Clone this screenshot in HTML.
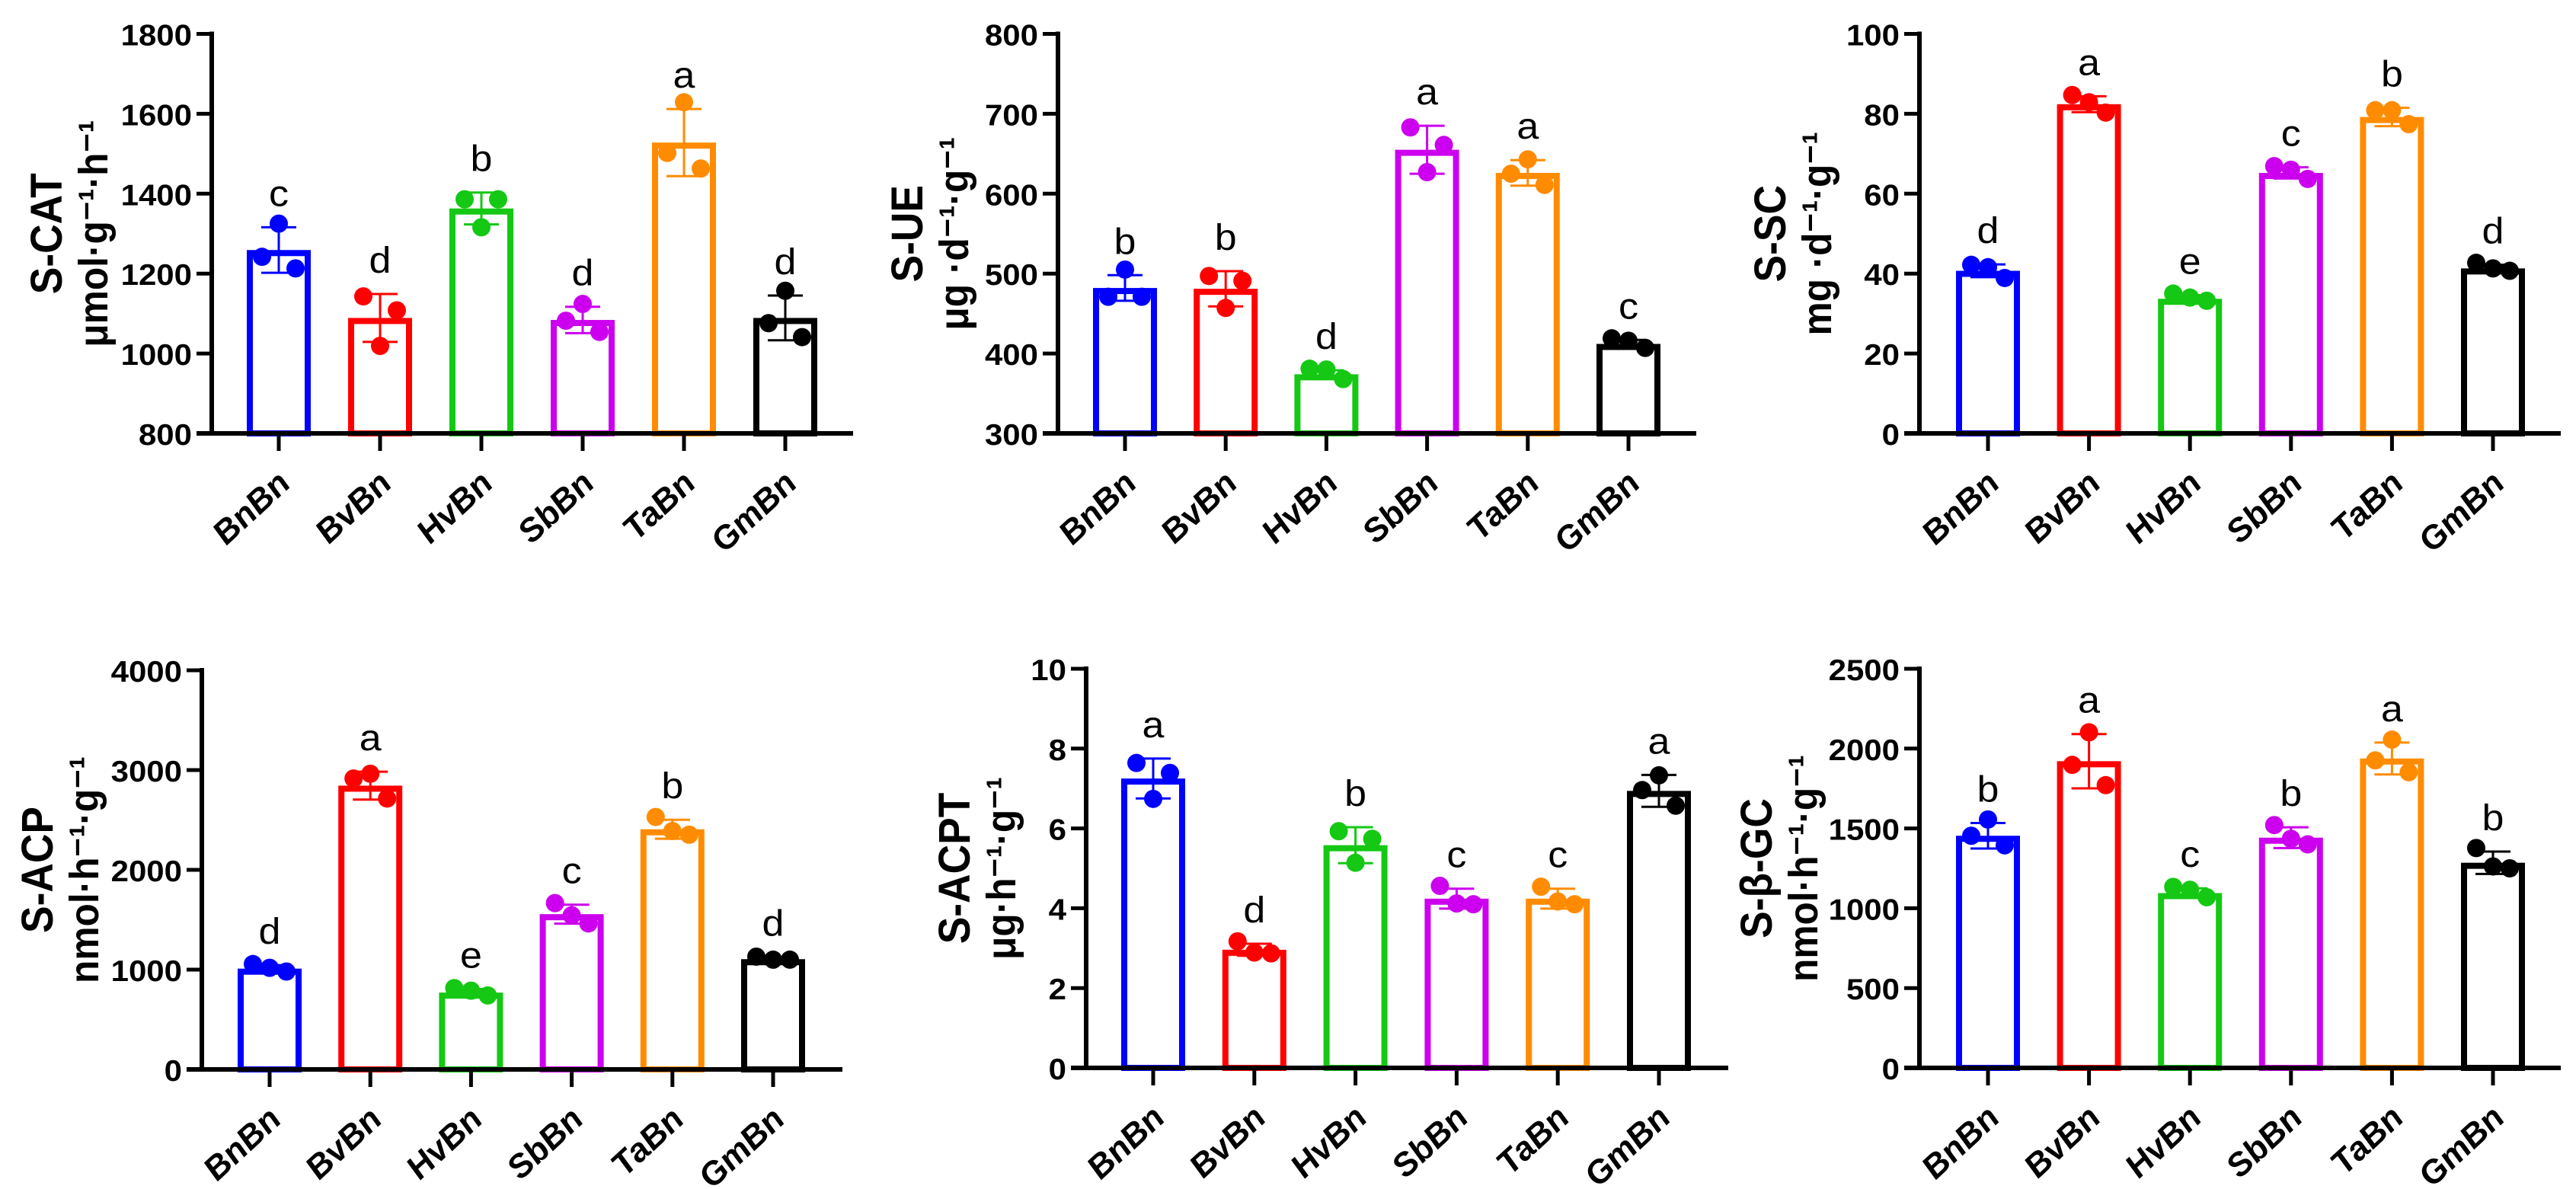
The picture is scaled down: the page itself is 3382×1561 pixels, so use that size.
<!DOCTYPE html>
<html><head><meta charset="utf-8"><style>
html,body{margin:0;padding:0;background:#fff;}
svg{display:block;}
text{font-family:"Liberation Sans",Arial,sans-serif;}
</style></head><body>
<svg id="fig" xmlns="http://www.w3.org/2000/svg" width="3382" height="1561" viewBox="0 0 3382 1561"></svg>
<script>
const categories = ["BnBn","BvBn","HvBn","SbBn","TaBn","GmBn"];
const colors = ["#0000ff","#ff0000","#14c814","#cc00ee","#ff8c00","#000000"];

const catMeans = [1259,1089,1363,1084,1528,1089];
const catErr = [57,60,40,33,84,56];
const catPts = [[1242,1325,1213],[1143,1019,1108],[1386,1316,1386],[1082,1124,1054],[1502,1629,1463],[1076,1157,1041]];
const catLetters = ["c","d","b","d","a","d"];
const catTicks = [800,1000,1200,1400,1600,1800];

const ueMeans = [482,481,374,655,626,412];
const ueErr = [16,22,5,30,16,5];
const uePts = [[471,505,471],[497,457,491],[381,380,368],[683,627,661],[625,643,611],[419,416,407]];
const ueLetters = ["b","b","d","a","a","c"];
const ueTicks = [300,400,500,600,700,800];

const scMeans = [40.7,82.4,33.7,65.2,79.2,41.3];
const scErr = [1.6,2.0,0.9,1.4,2.3,0.9];
const scPts = [[42.2,41.6,38.9],[84.7,82.9,80.3],[35,34,33.2],[66.9,66.0,63.7],[80.9,80.9,77.4],[42.7,41.3,40.7]];
const scLetters = ["d","a","e","c","b","d"];
const scTicks = [0,20,40,60,80,100];

const acpMeans = [1010,2844,770,1556,2407,1105];
const acpErr = [35,140,35,95,95,20];
const acpPts = [[1056,1018,981],[2915,2963,2715],[815,789,741],[1667,1544,1463],[2530,2389,2352],[1130,1100,1100]];
const acpLetters = ["d","a","e","c","b","d"];
const acpTicks = [0,1000,2000,3000,4000];

const acptMeans = [7.25,2.96,5.58,4.24,4.24,6.94];
const acptErr = [0.5,0.15,0.45,0.25,0.25,0.4];
const acptPts = [[7.64,6.74,7.39],[3.17,2.89,2.87],[5.93,5.14,5.74],[4.56,4.12,4.10],[4.54,4.17,4.10],[6.96,7.33,6.57]];
const acptLetters = ["a","d","b","c","c","a"];
const acptTicks = [0,2,4,6,8,10];

const gcMeans = [1454,1921,1095,1442,1938,1285];
const gcErr = [80,170,30,65,100,70];
const gcPts = [[1454,1556,1394],[1898,2102,1771],[1134,1116,1069],[1521,1435,1400],[1926,2056,1852],[1377,1262,1250]];
const gcLetters = ["b","a","c","b","a","b"];
const gcTicks = [0,500,1000,1500,2000,2500];

const panels = [
 {id:"s-cat", t1:"S-CAT", t2:"μmol·g⁻¹·h⁻¹", ax:278, yTop:44.5, yBot:569, x0:366, dx:133, xEnd:1120, tb:-199, ticks:catTicks, means:catMeans, err:catErr, pts:catPts, letters:catLetters},
 {id:"s-ue", t1:"S-UE", t2:"μg ·d⁻¹·g⁻¹", ax:1389, yTop:44.5, yBot:569, x0:1477, dx:132.2, xEnd:2227, tb:-180, ticks:ueTicks, means:ueMeans, err:ueErr, pts:uePts, letters:ueLetters},
 {id:"s-sc", t1:"S-SC", t2:"mg ·d⁻¹·g⁻¹", ax:2520, yTop:44.5, yBot:569, x0:2610, dx:132.6, xEnd:3362, tb:-178, ticks:scTicks, means:scMeans, err:scErr, pts:scPts, letters:scLetters},
 {id:"s-acp", t1:"S-ACP", t2:"nmol·h⁻¹·g⁻¹", ax:265, yTop:880, yBot:1404, x0:354, dx:132.2, xEnd:1106, tb:-198, ticks:acpTicks, means:acpMeans, err:acpErr, pts:acpPts, letters:acpLetters},
 {id:"s-acpt", t1:"S-ACPT", t2:"μg·h⁻¹·g⁻¹", ax:1426, yTop:878, yBot:1402, x0:1514, dx:132.8, xEnd:2269, tb:-155, ticks:acptTicks, means:acptMeans, err:acptErr, pts:acptPts, letters:acptLetters},
 {id:"s-b-gc", t1:"S-β-GC", t2:"nmol·h⁻¹·g⁻¹", ax:2520, yTop:878, yBot:1402, x0:2610, dx:132.6, xEnd:3362, tb:-196, ticks:gcTicks, means:gcMeans, err:gcErr, pts:gcPts, letters:gcLetters}
];

const NS="http://www.w3.org/2000/svg";
const svg=document.getElementById("fig");
const K=0.92;
function mk(tag, attrs, parent){
  const e=document.createElementNS(NS,tag);
  for(const k in attrs) e.setAttribute(k,attrs[k]);
  parent.appendChild(e);
  return e;
}
function txt(parent, s, x, y, rot, size, weight, style, anchor, fill){
  const t=mk("text",{transform:`translate(${x},${y}) scale(1,${K}) rotate(${rot})`,"font-size":size,"font-weight":weight,"font-style":style,"text-anchor":anchor,fill:fill||"#000"},parent);
  t.textContent=s;
  return t;
}

panels.forEach(p=>{
  const g=mk("g",{},svg);
  
  
  const vmin=p.ticks[0], vmax=p.ticks[p.ticks.length-1];
  const yS=v=>p.yBot-(v-vmin)/(vmax-vmin)*(p.yBot-p.yTop);
  const xS=i=>p.x0+i*p.dx;

  categories.forEach((c,i)=>{
    const cx=xS(i), col=colors[i], m=p.means[i];
    const bg=mk("g",{},g);
    
    
    const top=yS(m);
    mk("rect",{x:cx-38,y:top+4,width:76,height:Math.max(0,p.yBot-top-4),fill:"#fff",stroke:col,"stroke-width":8},bg);
    const e1=yS(m+p.err[i]), e2=yS(m-p.err[i]);
    mk("line",{x1:cx,y1:e1,x2:cx,y2:e2,stroke:col,"stroke-width":3},bg);
    mk("line",{x1:cx-23,y1:e1,x2:cx+23,y2:e1,stroke:col,"stroke-width":3},bg);
    mk("line",{x1:cx-23,y1:e2,x2:cx+23,y2:e2,stroke:col,"stroke-width":3},bg);
    p.pts[i].forEach((v,j)=>{
      const d=mk("circle",{cx:cx+(j-1)*22,cy:yS(v),r:12,fill:col},bg);
      
      
    });
    const lt=txt(g,p.letters[i],cx,e1-28,0,52,"normal","normal","middle");
    
    
  });

  const ya=mk("line",{x1:p.ax,y1:p.yTop-3,x2:p.ax,y2:p.yBot,stroke:"#000","stroke-width":6},g);
  
  
  const xa=mk("line",{x1:p.ax-20,y1:p.yBot,x2:p.xEnd,y2:p.yBot,stroke:"#000","stroke-width":6},g);
  
  
  p.ticks.forEach(v=>{
    const y=yS(v);
    mk("line",{x1:p.ax-20,y1:y,x2:p.ax,y2:y,stroke:"#000","stroke-width":5},g);
    const tl=txt(g,String(v),p.ax-26,y+15,0,42,"bold","normal","end");
    
    
  });
  categories.forEach((c,i)=>{
    const cx=xS(i);
    mk("line",{x1:cx,y1:p.yBot,x2:cx,y2:p.yBot+23,stroke:"#000","stroke-width":5},g);
    const xl=txt(g,c,cx+18,p.yBot+68,-45,46,"bold","italic","end");
    
    
  });
  const ym=(p.yTop+p.yBot)/2;
  const t1=txt(g,p.t1,p.ax+p.tb+2,ym,-90,58,"bold","normal","middle");
  
  
  const t2=txt(g,p.t2,p.ax+p.tb+62,ym,-90,54,"bold","normal","middle");
  
  
});
</script>
</body></html>
